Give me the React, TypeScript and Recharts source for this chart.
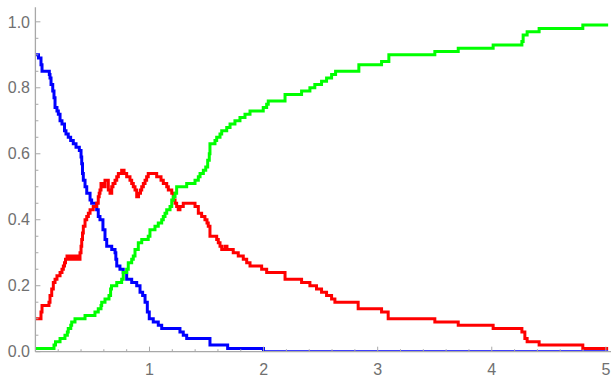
import React from 'react';
import { LineChart, Line, XAxis, YAxis } from 'recharts';

// Step data: [time, fraction]
const susceptible: [number, number][] = [
  [0, 0.9], [0.027, 0.89], [0.049, 0.87], [0.058, 0.85], [0.122, 0.84], [0.128, 0.83],
  [0.137, 0.81], [0.152, 0.79], [0.163, 0.77], [0.172, 0.74], [0.189, 0.73], [0.201, 0.72],
  [0.216, 0.7], [0.233, 0.69], [0.255, 0.67], [0.268, 0.66], [0.288, 0.65], [0.309, 0.64],
  [0.332, 0.63], [0.356, 0.62], [0.385, 0.61], [0.4, 0.59], [0.406, 0.57], [0.413, 0.54],
  [0.42, 0.52], [0.435, 0.5], [0.45, 0.48], [0.479, 0.46], [0.493, 0.45], [0.537, 0.43],
  [0.551, 0.41], [0.566, 0.4], [0.592, 0.37], [0.61, 0.34], [0.625, 0.32], [0.669, 0.31],
  [0.698, 0.3], [0.705, 0.28], [0.713, 0.26], [0.741, 0.25], [0.77, 0.24], [0.8, 0.22],
  [0.844, 0.21], [0.888, 0.2], [0.917, 0.18], [0.94, 0.17], [0.961, 0.15], [0.981, 0.12],
  [0.998, 0.1], [1.033, 0.09], [1.077, 0.08], [1.107, 0.07], [1.267, 0.06], [1.296, 0.05],
  [1.326, 0.04], [1.53, 0.02], [1.685, 0.01], [1.999, 0], [5.02, 0],
];

const infected: [number, number][] = [
  [0, 0.1], [0.049, 0.12], [0.058, 0.14], [0.119, 0.15], [0.128, 0.17], [0.143, 0.19],
  [0.157, 0.21], [0.172, 0.22], [0.189, 0.23], [0.216, 0.24], [0.233, 0.25], [0.245, 0.26],
  [0.255, 0.27], [0.264, 0.28], [0.277, 0.29], [0.303, 0.28], [0.321, 0.29], [0.338, 0.28],
  [0.356, 0.29], [0.376, 0.28], [0.391, 0.3], [0.4, 0.32], [0.406, 0.34], [0.413, 0.36],
  [0.42, 0.38], [0.435, 0.4], [0.45, 0.41], [0.464, 0.42], [0.479, 0.43], [0.507, 0.44],
  [0.537, 0.45], [0.551, 0.47], [0.559, 0.48], [0.566, 0.49], [0.575, 0.51], [0.595, 0.5],
  [0.61, 0.52], [0.639, 0.49], [0.654, 0.48], [0.669, 0.5], [0.68, 0.51], [0.698, 0.52],
  [0.713, 0.53], [0.727, 0.54], [0.756, 0.55], [0.777, 0.54], [0.8, 0.53], [0.829, 0.52],
  [0.844, 0.51], [0.858, 0.5], [0.873, 0.49], [0.888, 0.47], [0.904, 0.48], [0.921, 0.49],
  [0.932, 0.5], [0.946, 0.51], [0.961, 0.52], [0.975, 0.53], [0.989, 0.54], [1.063, 0.53],
  [1.101, 0.52], [1.121, 0.51], [1.151, 0.5], [1.165, 0.49], [1.195, 0.48], [1.209, 0.46],
  [1.224, 0.45], [1.238, 0.44], [1.252, 0.43], [1.267, 0.44], [1.296, 0.45], [1.399, 0.44],
  [1.428, 0.42], [1.457, 0.41], [1.486, 0.4], [1.504, 0.39], [1.515, 0.38], [1.53, 0.35],
  [1.589, 0.34], [1.603, 0.33], [1.618, 0.32], [1.633, 0.31], [1.662, 0.32], [1.679, 0.31],
  [1.734, 0.3], [1.778, 0.29], [1.822, 0.28], [1.852, 0.27], [1.881, 0.26], [1.983, 0.25],
  [2.027, 0.24], [2.188, 0.22], [2.333, 0.21], [2.406, 0.2], [2.464, 0.19], [2.508, 0.18],
  [2.552, 0.17], [2.596, 0.16], [2.625, 0.15], [2.829, 0.13], [3.034, 0.12], [3.092, 0.1],
  [3.501, 0.09], [3.706, 0.08], [4.012, 0.07], [4.264, 0.06], [4.29, 0.04], [4.31, 0.03],
  [4.415, 0.02], [4.798, 0.01], [5.02, 0.01],
];

const recovered: [number, number][] = [
  [0, 0.01], [0.163, 0.02], [0.176, 0.03], [0.216, 0.04], [0.259, 0.05], [0.28, 0.06],
  [0.288, 0.07], [0.31, 0.08], [0.318, 0.09], [0.347, 0.1], [0.435, 0.11], [0.522, 0.12],
  [0.551, 0.13], [0.575, 0.14], [0.581, 0.15], [0.61, 0.16], [0.645, 0.17], [0.659, 0.19],
  [0.667, 0.2], [0.713, 0.21], [0.756, 0.22], [0.77, 0.24], [0.8, 0.25], [0.814, 0.27],
  [0.844, 0.28], [0.858, 0.29], [0.873, 0.31], [0.902, 0.33], [0.932, 0.34], [0.989, 0.35],
  [1.004, 0.37], [1.048, 0.38], [1.077, 0.39], [1.107, 0.4], [1.121, 0.41], [1.136, 0.42],
  [1.151, 0.43], [1.18, 0.44], [1.195, 0.46], [1.209, 0.47], [1.224, 0.48], [1.238, 0.5],
  [1.326, 0.51], [1.399, 0.52], [1.428, 0.53], [1.443, 0.54], [1.472, 0.55], [1.493, 0.56],
  [1.51, 0.58], [1.524, 0.6], [1.53, 0.63], [1.574, 0.64], [1.589, 0.65], [1.618, 0.66],
  [1.633, 0.67], [1.677, 0.68], [1.706, 0.69], [1.749, 0.7], [1.793, 0.71], [1.837, 0.72],
  [1.881, 0.73], [1.997, 0.74], [2.027, 0.75], [2.041, 0.76], [2.188, 0.78], [2.333, 0.79],
  [2.406, 0.8], [2.449, 0.81], [2.508, 0.82], [2.552, 0.83], [2.596, 0.84], [2.631, 0.85],
  [2.835, 0.87], [3.034, 0.88], [3.098, 0.9], [3.501, 0.91], [3.706, 0.92], [4.012, 0.93],
  [4.264, 0.94], [4.275, 0.96], [4.31, 0.97], [4.415, 0.98], [4.798, 0.99], [5.02, 0.99],
];

const xTicks = [
  0.2, 0.4, 0.6, 0.8, 1, 1.2, 1.4, 1.6, 1.8, 2, 2.2, 2.4, 2.6, 2.8, 3,
  3.2, 3.4, 3.6, 3.8, 4, 4.2, 4.4, 4.6, 4.8, 5,
];
const yTicks = [
  0, 0.05, 0.1, 0.15, 0.2, 0.25, 0.3, 0.35, 0.4, 0.45, 0.5,
  0.55, 0.6, 0.65, 0.7, 0.75, 0.8, 0.85, 0.9, 0.95, 1,
];

const AXIS_COLOR = '#a8a8a8';
const LABEL_COLOR = '#707070';
const FONT = '"Liberation Sans", Arial, sans-serif';

const PLOT_LEFT = 35.4;
const PLOT_TOP = 7.3;
const PLOT_BOTTOM = 351.7;

const toRows = (pairs: [number, number][]) => pairs.map(([t, v]) => ({ t, v }));

const isWhole = (v: number, step: number) => Math.abs(v / step - Math.round(v / step)) < 1e-6;

// Mathematica-style ticks pointing into the plot
const XTick = (props: any) => {
  const { x, payload } = props;
  const major = isWhole(payload.value, 1);
  return (
    <g>
      <line x1={x} x2={x} y1={PLOT_BOTTOM} y2={PLOT_BOTTOM - (major ? 5 : 2.5)} stroke={AXIS_COLOR} strokeWidth={1} />
      {major && (
        <text x={x} y={374.5} textAnchor="middle" fill={LABEL_COLOR} fontSize={16} fontFamily={FONT}>
          {String(Math.round(payload.value))}
        </text>
      )}
    </g>
  );
};

const YTick = (props: any) => {
  const { y, payload } = props;
  const major = isWhole(payload.value, 0.2);
  return (
    <g>
      <line x1={PLOT_LEFT} x2={PLOT_LEFT + (major ? 5 : 3)} y1={y} y2={y} stroke={AXIS_COLOR} strokeWidth={1} />
      {major && (
        <text x={30} y={y + 5.7} textAnchor="end" fill={LABEL_COLOR} fontSize={16} fontFamily={FONT}>
          {payload.value.toFixed(1)}
        </text>
      )}
    </g>
  );
};

const App = () => {
  return (
    <div style={{ width: 611, height: 377, background: '#fff' }}>
      <style>{'body { margin: 0; }'}</style>
      <LineChart width={611} height={377} margin={{ top: PLOT_TOP, right: 0, left: 0, bottom: 0 }}>
        <XAxis
          dataKey="t"
          type="number"
          domain={[0, 5.045]}
          ticks={xTicks}
          interval={0}
          height={377 - PLOT_BOTTOM}
          tickLine={false}
          axisLine={{ stroke: AXIS_COLOR, strokeWidth: 1.3 }}
          tick={<XTick />}
          allowDataOverflow
        />
        <YAxis
          type="number"
          domain={[0, 1.044]}
          ticks={yTicks}
          interval={0}
          width={PLOT_LEFT}
          tickLine={false}
          axisLine={{ stroke: AXIS_COLOR, strokeWidth: 1.3 }}
          tick={<YTick />}
          allowDataOverflow
        />
        <Line data={toRows(susceptible)} dataKey="v" type="stepAfter" stroke="#0000ff" strokeWidth={3} dot={false} isAnimationActive={false} />
        <Line data={toRows(infected)} dataKey="v" type="stepAfter" stroke="#ff0000" strokeWidth={3} dot={false} isAnimationActive={false} />
        <Line data={toRows(recovered)} dataKey="v" type="stepAfter" stroke="#00ff00" strokeWidth={3} dot={false} isAnimationActive={false} />
      </LineChart>
    </div>
  );
};

export default App;
